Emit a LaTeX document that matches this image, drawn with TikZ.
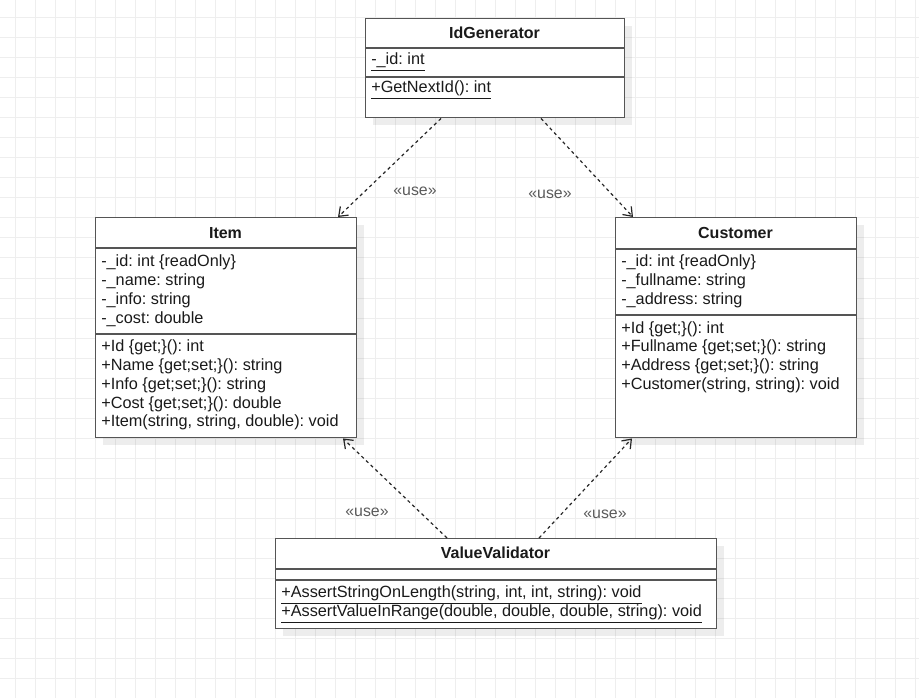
\documentclass[tikz,border=0pt]{standalone}
\usepackage{fontspec}
\setmainfont{Liberation Sans}
\usetikzlibrary{arrows.meta,calc,shadows}
\definecolor{gridc}{HTML}{EEEEEE}
\definecolor{boxc}{HTML}{555555}
\definecolor{txtc}{HTML}{1A1A1A}
\definecolor{lblc}{HTML}{5A5A5A}
\tikzset{
  classbox/.style={draw=boxc, line width=1.1pt, fill=white, rectangle, inner sep=0pt, anchor=north west,
    drop shadow={shadow xshift=5.5pt, shadow yshift=-5.5pt, fill=black, opacity=0.07}},
  sepline/.style={draw=boxc, line width=1.1pt},
  hdr/.style={font=\frenchspacing\bfseries\fontsize{12pt}{13pt}\selectfont, text=txtc, inner sep=0pt},
  row/.style={font=\frenchspacing\fontsize{12.2pt}{13pt}\selectfont, text=txtc, inner sep=0pt, anchor=west},
  dep/.style={draw=black!85, line width=0.9pt, dash pattern=on 2.4pt off 2.4pt,
    -{Straight Barb[length=6pt,width=9pt,line width=0.9pt]}},
  lbl/.style={font=\fontsize{11.9pt}{13pt}\selectfont, text=lblc, inner sep=0pt},
}
\begin{document}
\begin{tikzpicture}[x=0.75pt,y=-0.75pt]
\useasboundingbox (0,0) rectangle (919,698);
% grid
\foreach \i in {0,...,45} {\draw[gridc, line width=0.75pt] (15.5+20*\i,0) -- (15.5+20*\i,698);}
\foreach \j in {0,...,34} {\draw[gridc, line width=0.75pt] (0,18+20*\j) -- (919,18+20*\j);}

% IdGenerator
\node[classbox, minimum width=194.25pt, minimum height=74.25pt] (idg) at (365,18) {};
\draw[sepline] ($(idg.north west)+(0,30)$) -- ($(idg.north east)+(0,30)$);
\draw[sepline] ($(idg.north west)+(0,59)$) -- ($(idg.north east)+(0,59)$);
\node[hdr] (idg-h) at (494.5,33) {IdGenerator};
\node[row] (idg-a1) at (371,62) {\underline{-\_id: int}};
\node[row] (idg-m1) at (371,90) {\underline{+GetNextId(): int}};

% Item
\node[classbox, minimum width=195.75pt, minimum height=165pt] (item) at (95,217) {};
\draw[sepline] ($(item.north west)+(0,31)$) -- ($(item.north east)+(0,31)$);
\draw[sepline] ($(item.north west)+(0,117)$) -- ($(item.north east)+(0,117)$);
\node[hdr] (item-h) at (225.5,233) {Item};
\node[row] (item-a1) at (101,262) {-\_id: int \{readOnly\}};
\node[row] (item-a2) at (101,281) {-\_name: string};
\node[row] (item-a3) at (101,300) {-\_info: string};
\node[row] (item-a4) at (101,319) {-\_cost: double};
\node[row] (item-m1) at (101,347) {+Id \{get;\}(): int};
\node[row] (item-m2) at (101,366) {+Name \{get;set;\}(): string};
\node[row] (item-m3) at (101,385) {+Info \{get;set;\}(): string};
\node[row] (item-m4) at (101,404) {+Cost \{get;set;\}(): double};
\node[row] (item-m5) at (101,422) {+Item(string, string, double): void};

% Customer
\node[classbox, minimum width=180.75pt, minimum height=165pt] (cust) at (615,217) {};
\draw[sepline] ($(cust.north west)+(0,32)$) -- ($(cust.north east)+(0,32)$);
\draw[sepline] ($(cust.north west)+(0,98)$) -- ($(cust.north east)+(0,98)$);
\node[hdr] (cust-h) at (735.5,233) {Customer};
\node[row] (cust-a1) at (621,262) {-\_id: int \{readOnly\}};
\node[row] (cust-a2) at (621,281) {-\_fullname: string};
\node[row] (cust-a3) at (621,300) {-\_address: string};
\node[row] (cust-m1) at (621,329) {+Id \{get;\}(): int};
\node[row] (cust-m2) at (621,347) {+Fullname \{get;set;\}(): string};
\node[row] (cust-m3) at (621,366) {+Address \{get;set;\}(): string};
\node[row] (cust-m4) at (621,385) {+Customer(string, string): void};

% ValueValidator
\node[classbox, minimum width=330.75pt, minimum height=67.5pt] (vv) at (275,538) {};
\draw[sepline] ($(vv.north west)+(0,31)$) -- ($(vv.north east)+(0,31)$);
\draw[sepline] ($(vv.north west)+(0,42)$) -- ($(vv.north east)+(0,42)$);
\node[hdr] (vv-h) at (495.5,553) {ValueValidator};
\node[row] (vv-m1) at (281,595) {\underline{+AssertStringOnLength(string, int, int, string): void}};
\node[row] (vv-m2) at (281,614) {\underline{+AssertValueInRange(double, double, double, string): void}};

% dependencies
\draw[dep] ($(idg.south west)+(76,0)$) -- ($(item.north west)+(243,0)$);
\draw[dep] ($(idg.south west)+(176,0)$) -- ($(cust.north west)+(18,0)$);
\draw[dep] ($(vv.north west)+(172,0)$) -- ($(item.south west)+(248,0)$);
\draw[dep] ($(vv.north west)+(264,0)$) -- ($(cust.south west)+(17,0)$);
\node[lbl] (l1) at (415,191) {«use»};
\node[lbl] (l2) at (550,194) {«use»};
\node[lbl] (l3) at (367,512) {«use»};
\node[lbl] (l4) at (605,514) {«use»};
\end{tikzpicture}
\end{document}
